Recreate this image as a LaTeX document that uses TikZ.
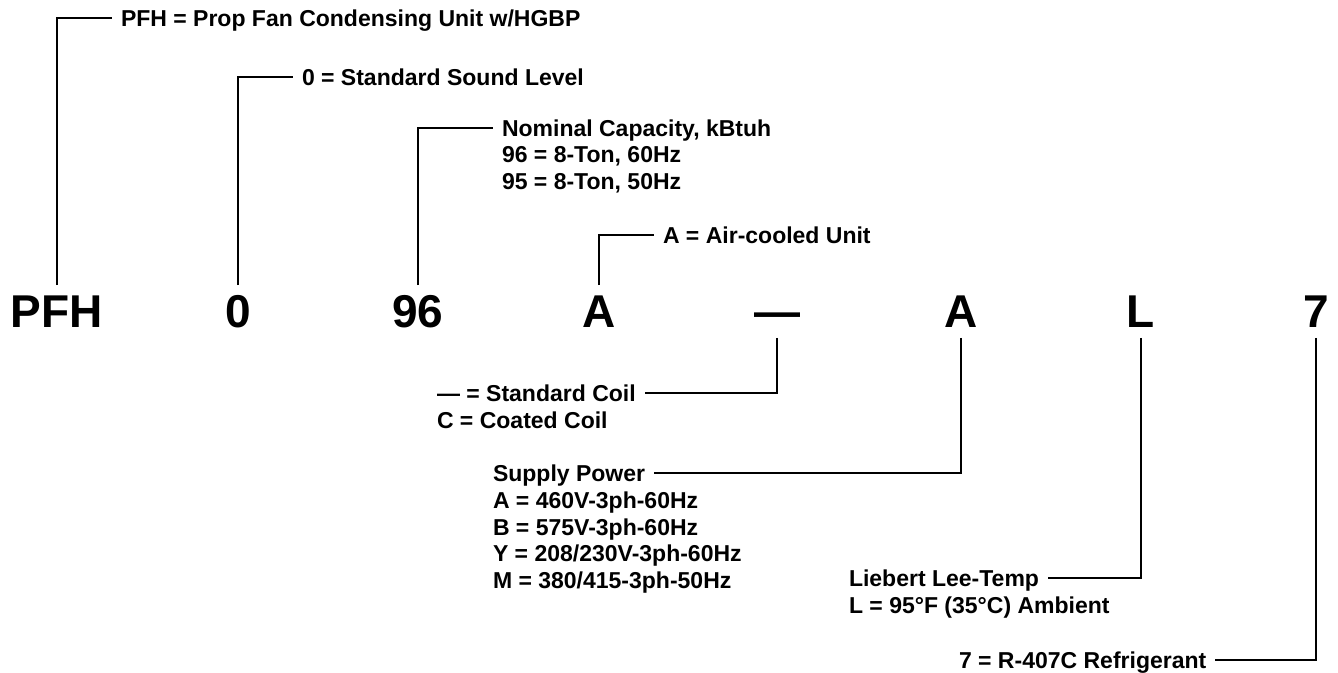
\documentclass[tikz,border=0pt]{standalone}
\usepackage{fontspec}
\setmainfont{Liberation Sans}
\usetikzlibrary{positioning}

\begin{document}
\begin{tikzpicture}[
    x=0.75pt, y=-0.75pt,
    code/.style={
        inner sep=0pt, outer xsep=0pt, outer ysep=7.5pt,
        text height=24.7pt, text depth=0pt, anchor=base,
        font=\fontsize{34.5}{40}\selectfont\bfseries
    },
    lbl/.style={
        inner sep=0pt, outer xsep=6.75pt, outer ysep=0pt,
        text height=12.4pt, text depth=0pt, anchor=west,
        font=\fontsize{17.25}{20}\selectfont\bfseries
    },
    sub/.style={
        inner sep=0pt, outer xsep=6.75pt, outer ysep=0pt,
        align=left,
        font=\fontsize{17.25}{20}\selectfont\bfseries
    },
    lead/.style={line width=2.2pt},
]
\useasboundingbox (0,0) rectangle (1338,673);

%% Codice modello
\node[code] (pfh)  at (57,328)   {PFH};
\node[code] (snd)  at (238,328)  {0};
\node[code] (cap)  at (418,328)  {96};
\node[code] (cool) at (599,328)  {A};
\node[code] (coil) at (777,328)  {—};
\node[code] (pwr)  at (961,328)  {A};
\node[code] (amb)  at (1141,328) {L};
\node[code] (refr) at (1316,328) {7};

%% Legende sopra
\node[lbl] (pfhtxt)  at (112,18)  {PFH = Prop Fan Condensing Unit w/HGBP};
\node[lbl] (sndtxt)  at (293,77)  {0 = Standard Sound Level};
\node[lbl] (captxt)  at (493,128) {Nominal Capacity, kBtuh};
\node[sub, below=7.9pt of captxt.south west, anchor=north west] (caplist)
    {96 = 8-Ton, 60Hz\\95 = 8-Ton, 50Hz};
\node[lbl] (cooltxt) at (654,235) {A = Air-cooled Unit};

%% Legende sotto
\node[lbl] (coiltxt) at (428,393) {— = Standard Coil};
\node[sub, below=7.9pt of coiltxt.south west, anchor=north west] (coillist)
    {C = Coated Coil};
\node[lbl] (pwrtxt)  at (484,473) {Supply Power};
\node[sub, below=7.9pt of pwrtxt.south west, anchor=north west] (pwrlist)
    {A = 460V-3ph-60Hz\\B = 575V-3ph-60Hz\\Y = 208/230V-3ph-60Hz\\M = 380/415-3ph-50Hz};
\node[lbl] (ambtxt)  at (840,578) {Liebert Lee-Temp};
\node[sub, below=7.9pt of ambtxt.south west, anchor=north west] (amblist)
    {L = 95°F (35°C) Ambient};
\node[lbl] (refrtxt) at (950,660) {7 = R-407C Refrigerant};

%% Linee di richiamo
\draw[lead] (pfh.north)  |- (pfhtxt.west);
\draw[lead] (snd.north)  |- (sndtxt.west);
\draw[lead] (cap.north)  |- (captxt.west);
\draw[lead] (cool.north) |- (cooltxt.west);
\draw[lead] (coil.south) |- (coiltxt.east);
\draw[lead] (pwr.south)  |- (pwrtxt.east);
\draw[lead] (amb.south)  |- (ambtxt.east);
\draw[lead] (refr.south) |- (refrtxt.east);

\end{tikzpicture}
\end{document}
